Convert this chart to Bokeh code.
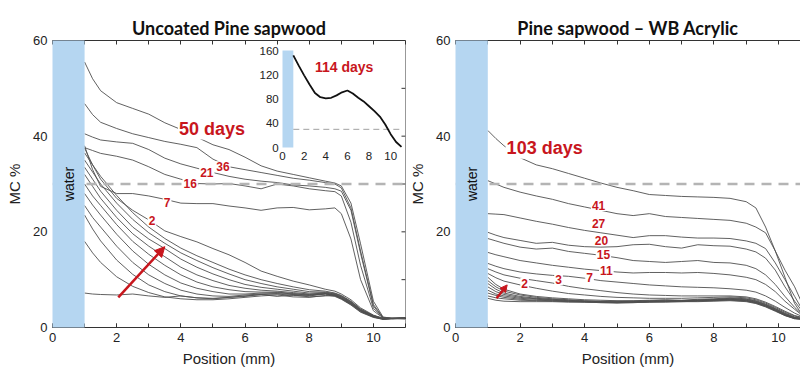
import numpy as np
from bokeh.plotting import figure
from bokeh.layouts import row
from bokeh.models import (Range1d, LinearAxis, SingleIntervalTicker, FixedTicker,
                          Label, Arrow, NormalHead, Span)
from bokeh.core.properties import value
from bokeh.embed import file_html
from bokeh.resources import INLINE

# ---------------- data ----------------
# Uncoated pine sapwood: MC % vs position (mm)
x_left = [1.0, 1.25, 1.5, 2.0, 2.5, 3.0, 3.5, 4.0, 4.5, 5.0, 5.5, 6.0, 6.5,
          7.0, 7.5, 8.0, 8.5, 8.8, 9.0, 9.3, 9.6, 10.0, 10.3, 10.6, 11.0]
unc_50d = [55.5, 52.0, 49.5, 47.0, 45.8, 44.6, 42.8, 41.4, 39.8, 38.2, 37.2, 35.6, 33.8,
           32.7, 32.0, 31.3, 30.6, 30.2, 29.6, 26.0, 17.5, 5.5, 2.2, 1.9, 1.8]
unc_36d = [46.8, 44.5, 42.9, 41.6, 40.5, 39.7, 38.9, 38.3, 37.6, 35.2, 33.6, 33.0, 32.4,
           31.8, 31.2, 30.8, 30.3, 30.0, 29.2, 25.0, 16.0, 4.8, 2.1, 1.9, 1.9]
unc_21d = [40.5, 39.8, 39.2, 38.8, 38.5, 37.2, 35.4, 34.2, 33.3, 32.4, 31.6, 31.0, 30.6,
           30.3, 29.8, 29.6, 29.3, 29.0, 28.5, 24.5, 15.5, 4.5, 2.0, 1.9, 1.8]
unc_16d = [37.6, 37.0, 36.4, 35.8, 35.0, 33.6, 32.0, 31.0, 30.1, 30.0, 30.1, 29.6, 29.0,
           30.0, 29.6, 29.0, 28.6, 28.4, 27.5, 22.0, 13.0, 4.0, 2.1, 1.9, 1.9]
unc_7d = [38.0, 33.0, 29.5, 28.0, 28.0, 27.5, 26.8, 26.0, 25.9, 25.9, 25.4, 25.0, 24.5,
          25.0, 25.1, 24.6, 24.8, 25.0, 23.8, 18.5, 10.0, 3.5, 2.0, 1.9, 1.9]
unc_2d = [37.5, 34.0, 31.0, 27.0, 24.5, 22.5, 20.2, 19.0, 17.9, 16.5, 15.2, 13.6, 11.8,
          10.7, 9.7, 8.9, 8.0, 7.6, 7.0, 5.8, 4.1, 2.6, 1.9, 1.9, 2.0]
unc_early = [
    [7.2, 7.0, 6.9, 6.8, 7.0, 6.6, 6.3, 6.6, 6.2, 6.0, 6.3, 6.6, 6.9, 6.5, 6.8, 6.4, 6.6, 6.8, 6.1, 5.0, 3.5, 2.3, 1.8, 1.9, 2.0],
    [18.0, 15.6, 13.6, 10.6, 8.6, 7.3, 6.4, 6.0, 5.8, 5.8, 6.0, 6.3, 6.6, 6.8, 6.4, 6.3, 6.7, 6.5, 5.9, 4.7, 3.2, 2.1, 1.7, 1.9, 1.9],
    [23.5, 20.6, 18.1, 14.1, 11.1, 8.9, 7.5, 6.6, 6.2, 6.1, 6.3, 6.5, 6.9, 7.0, 6.7, 6.6, 7.0, 6.7, 6.1, 4.9, 3.4, 2.2, 1.8, 1.9, 2.0],
    [25.5, 23.0, 21.0, 17.0, 13.6, 11.0, 9.2, 7.8, 7.0, 6.6, 6.5, 6.8, 7.0, 7.1, 6.9, 6.7, 7.1, 6.6, 6.0, 4.8, 3.3, 2.2, 1.7, 1.9, 2.0],
    [28.0, 25.6, 23.5, 19.5, 16.0, 13.2, 11.0, 9.3, 8.2, 7.5, 7.0, 7.0, 7.2, 7.3, 7.0, 6.8, 7.0, 6.7, 6.2, 5.0, 3.5, 2.3, 1.8, 1.9, 1.9],
    [30.0, 27.5, 25.5, 21.5, 18.0, 15.3, 13.0, 11.0, 9.5, 8.5, 7.9, 7.5, 7.4, 7.4, 7.1, 6.9, 7.1, 6.8, 6.3, 5.1, 3.6, 2.3, 1.8, 1.9, 2.0],
    [32.0, 29.5, 27.0, 23.0, 19.6, 17.0, 14.8, 12.6, 11.0, 9.8, 8.8, 8.2, 7.8, 7.6, 7.3, 7.0, 7.2, 6.9, 6.4, 5.2, 3.6, 2.4, 1.8, 1.9, 1.9],
    [33.5, 31.0, 28.5, 24.5, 21.0, 18.5, 16.5, 14.3, 12.6, 11.2, 10.0, 9.0, 8.4, 8.0, 7.6, 7.2, 7.3, 7.0, 6.5, 5.3, 3.7, 2.4, 1.9, 1.8, 2.0],
    [35.0, 32.5, 30.0, 26.0, 22.6, 19.8, 17.6, 15.6, 14.0, 12.5, 11.2, 10.0, 9.2, 8.5, 8.0, 7.5, 7.4, 7.1, 6.6, 5.4, 3.8, 2.5, 1.9, 1.9, 1.9],
    [36.5, 34.0, 31.6, 27.6, 24.0, 21.0, 18.6, 16.6, 15.0, 13.6, 12.2, 11.0, 10.0, 9.2, 8.5, 7.9, 7.6, 7.2, 6.7, 5.5, 3.9, 2.5, 1.9, 1.8, 1.9],
]
unc_labels = ["50 days", "36", "21", "16", "7", "2"]

# Inset: uncoated, 114 days
x_inset = [1.0, 1.5, 2.0, 2.5, 3.0, 3.5, 4.0, 4.5, 5.0, 5.5, 6.0, 6.5, 7.0, 7.5,
           8.0, 8.5, 9.0, 9.5, 10.0, 10.5, 11.0]
mc_inset = [152, 135, 119, 104, 90, 83, 81, 82, 86, 91, 94, 89, 82, 76,
            68, 60, 51, 38, 22, 9, 1]
inset_xticks = [0, 2, 4, 6, 8, 10]
inset_yticks = [0, 40, 80, 120, 160]
inset_label = "114 days"

# Pine sapwood - WB acrylic
x_right = [1.0, 1.25, 1.5, 2.0, 2.5, 3.0, 3.5, 4.0, 4.5, 5.0, 5.5, 6.0, 6.5,
           7.0, 7.5, 8.0, 8.5, 9.0, 9.3, 9.6, 9.9, 10.2, 10.5, 10.8, 11.0]
acr_103d = [41.2, 39.5, 38.0, 35.5, 34.0, 33.2, 32.2, 31.2, 30.2, 29.3, 28.6, 27.8, 27.6,
            27.4, 27.3, 27.2, 27.0, 26.3, 25.0, 21.0, 16.0, 10.5, 5.0, 2.0, 1.8]
acr_41d = [30.7, 30.0, 29.3, 28.3, 27.5, 26.8, 25.9, 25.2, 24.5, 23.8, 23.4, 23.8, 23.2,
           23.0, 22.8, 22.6, 22.4, 21.8, 21.0, 19.8, 16.0, 12.0, 8.5, 4.0, 2.0]
acr_27d = [23.8, 23.7, 23.6, 22.9, 22.2, 21.6, 20.9, 20.3, 19.8, 19.3, 18.8, 19.2, 19.2,
           18.9, 18.7, 18.7, 18.6, 18.1, 17.6, 16.5, 13.5, 10.0, 6.5, 3.0, 2.0]
acr_20d = [19.9, 19.3, 18.8, 18.2, 17.6, 17.8, 17.2, 16.9, 16.8, 16.9, 17.3, 17.4, 16.9,
           16.6, 17.3, 17.1, 17.0, 16.4, 15.8, 14.5, 12.0, 8.5, 5.5, 2.8, 2.0]
acr_15d = [18.6, 18.1, 17.6, 16.8, 16.4, 16.6, 15.9, 15.5, 15.1, 14.6, 14.0, 13.8, 13.6,
           13.8, 14.0, 13.6, 13.5, 13.0, 12.3, 11.0, 9.0, 6.5, 4.2, 2.3, 2.0]
acr_11d = [15.7, 15.2, 14.8, 14.0, 13.5, 13.0, 12.6, 12.2, 11.9, 11.6, 11.4, 11.5, 11.5,
           11.4, 11.5, 11.3, 11.0, 10.5, 10.0, 9.0, 7.5, 5.5, 3.8, 2.2, 2.0]
acr_7d = [13.4, 12.8, 12.3, 11.6, 11.2, 10.9, 10.7, 10.3, 9.8, 9.5, 9.2, 8.9, 8.7,
          8.5, 8.4, 8.3, 8.1, 7.8, 7.4, 6.6, 5.5, 4.2, 3.0, 2.1, 2.0]
acr_3d = [12.3, 11.6, 11.0, 10.3, 9.8, 9.3, 8.6, 8.1, 7.7, 7.3, 7.0, 6.8, 6.7,
          6.6, 6.6, 6.6, 6.6, 6.4, 6.0, 5.3, 4.4, 3.4, 2.5, 2.0, 1.9]
acr_2d = [11.3, 10.4, 9.7, 8.9, 8.2, 7.6, 7.1, 6.8, 6.5, 6.3, 6.2, 6.1, 6.1,
          6.1, 6.2, 6.3, 6.4, 6.2, 5.8, 5.1, 4.2, 3.2, 2.4, 1.9, 1.9]
acr_early = [
    [10.5, 9.0, 8.0, 7.0, 6.5, 6.2, 6.0, 5.8, 5.7, 5.6, 5.6, 5.7, 5.8, 5.7, 5.9, 6.0, 6.2, 6.0, 5.6, 4.9, 4.0, 3.0, 2.2, 1.8, 1.8],
    [9.8, 8.5, 7.6, 6.8, 6.3, 6.0, 5.8, 5.6, 5.5, 5.5, 5.5, 5.6, 5.7, 5.6, 5.8, 5.9, 6.1, 5.9, 5.5, 4.8, 3.9, 2.9, 2.1, 1.8, 1.9],
    [9.2, 8.0, 7.2, 6.5, 6.1, 5.9, 5.7, 5.5, 5.4, 5.4, 5.5, 5.5, 5.6, 5.6, 5.7, 5.8, 6.0, 5.8, 5.4, 4.7, 3.8, 2.8, 2.0, 1.8, 1.9],
    [8.5, 7.5, 6.9, 6.3, 6.0, 5.8, 5.6, 5.5, 5.4, 5.3, 5.4, 5.5, 5.5, 5.6, 5.6, 5.8, 5.9, 5.7, 5.3, 4.6, 3.7, 2.7, 2.0, 1.7, 1.8],
    [7.8, 7.0, 6.6, 6.1, 5.9, 5.7, 5.5, 5.4, 5.3, 5.3, 5.3, 5.4, 5.5, 5.5, 5.6, 5.7, 5.9, 5.6, 5.2, 4.5, 3.6, 2.6, 1.9, 1.7, 1.8],
    [7.2, 6.7, 6.3, 5.9, 5.7, 5.6, 5.5, 5.4, 5.3, 5.2, 5.3, 5.4, 5.4, 5.5, 5.6, 5.7, 5.8, 5.6, 5.2, 4.5, 3.6, 2.6, 1.9, 1.7, 1.8],
    [6.6, 6.2, 6.0, 5.7, 5.6, 5.5, 5.4, 5.3, 5.2, 5.2, 5.2, 5.3, 5.4, 5.4, 5.5, 5.6, 5.7, 5.5, 5.1, 4.4, 3.5, 2.5, 1.9, 1.7, 1.8],
    [6.1, 5.7, 5.5, 5.4, 5.4, 5.4, 5.3, 5.3, 5.2, 5.1, 5.2, 5.3, 5.3, 5.4, 5.4, 5.5, 5.6, 5.4, 5.0, 4.3, 3.4, 2.5, 1.8, 1.7, 1.8],
]
acr_labels = ["103 days", "41", "27", "20", "15", "11", "7", "3", "2"]

water_x = (0.0, 1.0)     # water contact zone (mm)
fsp = 30                 # fibre saturation line (MC %)
y_ticks = [0, 20, 40, 60]
right_ticks = [10, 20, 30, 40, 50]

# ---------------- style ----------------
RED = "#c8161d"
BLUE = "#b5d6f1"
LINE = "#505050"
AX = "#333333"
TICK_FONT = "Liberation Sans"
FW1, FW2, FH = 353, 345, 287


def hidden_label_axis(ticker):
    return LinearAxis(ticker=ticker, major_tick_in=4, major_tick_out=0,
                      minor_tick_in=0, minor_tick_out=0, minor_tick_line_color=None,
                      major_label_text_font_size="0px", major_label_text_color=None,
                      major_label_standoff=0, axis_label_standoff=0,
                      axis_line_color=AX, major_tick_line_color=AX)


def base_panel(title, x_end, fw, border_left, border_right):
    p = figure(frame_width=fw, frame_height=FH, x_range=Range1d(0, x_end),
               y_range=Range1d(0, 60), output_backend="svg", toolbar_location=None,
               min_border_left=border_left, min_border_right=border_right,
               min_border_top=40, min_border_bottom=40,
               background_fill_color="white", border_fill_color="white")
    p.outline_line_color = None
    p.grid.visible = False
    p.title.text = title
    p.title.align = "center"
    p.title.text_font = "Lato"
    p.title.text_font_style = "bold"
    p.title.text_font_size = "18px"
    p.title.text_color = "#111111"
    p.title.standoff = 4

    xa = p.below[0]
    xa.ticker = SingleIntervalTicker(interval=2, num_minor_ticks=2)
    xa.major_tick_in = 4
    xa.major_tick_out = 0
    xa.minor_tick_in = 4
    xa.minor_tick_out = 0
    xa.axis_line_color = AX
    xa.major_tick_line_color = AX
    xa.minor_tick_line_color = AX
    xa.major_label_text_font = TICK_FONT
    xa.major_label_text_font_size = "13px"
    xa.major_label_text_color = "#222222"
    xa.major_label_standoff = 5
    xa.axis_label = "Position (mm)"
    xa.axis_label_text_font = TICK_FONT
    xa.axis_label_text_font_style = "normal"
    xa.axis_label_text_font_size = "15px"
    xa.axis_label_text_color = "#222222"
    xa.axis_label_standoff = 5

    ya = p.left[0]
    ya.ticker = FixedTicker(ticks=y_ticks)
    ya.axis_line_color = None
    ya.major_tick_line_color = None
    ya.minor_tick_line_color = None
    ya.major_tick_out = 0
    ya.major_tick_in = 0
    ya.minor_tick_out = 0
    ya.minor_tick_in = 0
    ya.major_label_text_font = TICK_FONT
    ya.major_label_text_font_size = "13px"
    ya.major_label_text_color = "#222222"
    ya.major_label_standoff = 5
    ya.axis_label = "MC %"
    ya.axis_label_text_font = TICK_FONT
    ya.axis_label_text_font_style = "normal"
    ya.axis_label_text_font_size = "15px"
    ya.axis_label_text_color = "#222222"
    ya.axis_label_standoff = 7

    p.add_layout(hidden_label_axis(SingleIntervalTicker(interval=1, num_minor_ticks=0)), "above")

    # threshold line
    p.add_layout(Span(location=fsp, dimension="width", line_color="#b4b4b4",
                      line_width=2.5, line_dash="10 7", level="glyph"))
    return p


def water_bar(p):
    p.quad(left=water_x[0], right=water_x[1], bottom=p.y_range.start, top=p.y_range.end,
           fill_color=BLUE, line_color=None, level="annotation")
    p.text(x=[(water_x[0] + water_x[1]) / 2], y=[(p.y_range.start + p.y_range.end) / 2],
           text=["water"], angle=np.pi / 2, text_align="center", text_baseline="middle",
           text_font=value(TICK_FONT), text_font_size="14px", text_color="#111111",
           level="overlay")


def add_label(p, x, y, text, size, pad=1):
    p.add_layout(Label(x=x, y=y, text=text, text_font=TICK_FONT, text_font_style="bold",
                       text_font_size=size, text_color=RED, text_align="center",
                       text_baseline="middle", background_fill_color="white", padding=pad))


# ---------------- left panel ----------------
p1 = base_panel("Uncoated Pine sapwood", 11, FW1, 52, 1)
# right frame edge with inward ticks
p1.add_layout(Span(location=p1.x_range.end, dimension="height", line_color=AX, line_width=1))
p1.ray(x=[p1.x_range.end] * len(right_ticks), y=right_ticks, length=4, length_units="screen",
       angle=np.pi, line_color=AX, line_width=1)

for ys in unc_early + [unc_2d, unc_7d, unc_16d, unc_21d, unc_36d, unc_50d]:
    p1.line(x_left, ys, line_color=LINE, line_width=1, line_alpha=0.9)

water_bar(p1)

lab_pos_left = [(4.97, 41.6, "18px"), (5.31, 33.6, "12px"), (4.81, 32.3, "12px"),
                (4.29, 30.1, "12px"), (3.57, 26.1, "12px"), (3.10, 22.4, "12px")]
for (lx, ly, sz), t in zip(lab_pos_left, unc_labels):
    add_label(p1, lx, ly, t, sz)

p1.add_layout(Arrow(end=NormalHead(size=10, fill_color=RED, line_color=RED),
                    x_start=2.05, y_start=6.3, x_end=3.5, y_end=16.9,
                    line_color=RED, line_width=2.5))

# inset (drawn with its own mapped ranges inside the left frame)
ix_px0, ix_px1, iy_px0, iy_px1 = 230, 349, 180, 277   # inset frame offsets (px)
ix_span = x_inset[-1]
iy_span = inset_yticks[-1]
sx = (ix_px1 - ix_px0) / ix_span
sy = (iy_px1 - iy_px0) / iy_span
p1.extra_x_ranges = {"ix": Range1d(-ix_px0 / sx, (FW1 - ix_px0) / sx)}
p1.extra_y_ranges = {"iy": Range1d(-iy_px0 / sy, (FH - iy_px0) / sy)}

p1.quad(left=water_x[0], right=water_x[1], bottom=0, top=iy_span, fill_color=BLUE,
        line_color=None, x_range_name="ix", y_range_name="iy")
p1.line([water_x[1], ix_span], [fsp, fsp], line_color="#a0a0a0", line_width=1,
        line_dash="6 4", x_range_name="ix", y_range_name="iy")
p1.line(x_inset, mc_inset, line_color="#111111", line_width=1.8,
        x_range_name="ix", y_range_name="iy")
p1.text(x=[-0.35] * len(inset_yticks), y=inset_yticks, text=[str(v) for v in inset_yticks],
        text_align="right", text_baseline="middle", text_font=value(TICK_FONT),
        text_font_size="11.5px", text_color="#222222", x_range_name="ix", y_range_name="iy")
p1.text(x=inset_xticks, y=[-14] * len(inset_xticks), text=[str(v) for v in inset_xticks],
        text_align="center", text_baseline="middle", text_font=value(TICK_FONT),
        text_font_size="11.5px", text_color="#222222", x_range_name="ix", y_range_name="iy")
p1.text(x=[5.7], y=[132], text=[inset_label], text_align="center", text_baseline="middle",
        text_font=value(TICK_FONT), text_font_style="bold", text_font_size="14px",
        text_color=RED, x_range_name="ix", y_range_name="iy")

# ---------------- right panel ----------------
p2 = base_panel("Pine sapwood \u2013 WB Acrylic", FW2 / 32.3, FW2, 44, 0)
for ys in acr_early + [acr_2d, acr_3d, acr_7d, acr_11d, acr_15d, acr_20d, acr_27d,
                       acr_41d, acr_103d]:
    p2.line(x_right, ys, line_color=LINE, line_width=1, line_alpha=0.9)

water_bar(p2)

lab_pos_right = [(2.76, 37.6, "18px"), (4.43, 25.5, "12px"), (4.43, 21.7, "12px"),
                 (4.52, 18.2, "12px"), (4.58, 15.3, "12px"), (4.67, 11.9, "12px"),
                 (4.15, 10.5, "12px"), (3.19, 10.0, "12px"), (2.14, 9.2, "12px")]
for (lx, ly, sz), t in zip(lab_pos_right, acr_labels):
    add_label(p2, lx, ly, t, sz)

p2.add_layout(Arrow(end=NormalHead(size=7, fill_color=RED, line_color=RED),
                    x_start=1.27, y_start=6.1, x_end=1.6, y_end=8.9,
                    line_color=RED, line_width=2.5))

layout = row(p1, p2)
open("out.html", "w").write(file_html(layout, INLINE))
